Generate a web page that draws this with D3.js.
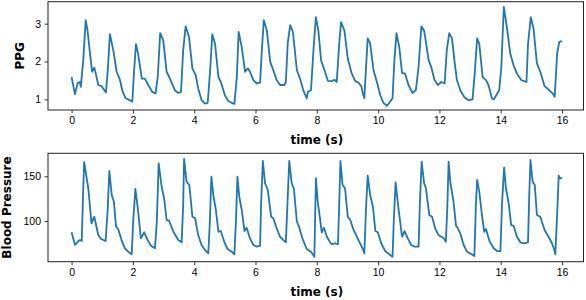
<!DOCTYPE html>
<html>
<head>
<meta charset="utf-8">
<script src="https://cdn.jsdelivr.net/npm/d3@7"></script>
<style>
  body { margin: 0; background: #fff; }
  svg { display: block; font-family: "DejaVu Sans", sans-serif; }
  .axis text { font-size: 10.5px; fill: #000; }
  .axis line { stroke: #222; stroke-width: 0.9px; }
  .axis path { display: none; }
  .frame { fill: none; stroke: #222; stroke-width: 1px; }
  .label { font-size: 12px; font-weight: bold; fill: #000; }
  .signal { fill: none; stroke: #1f77b4; stroke-width: 1.8px; stroke-linejoin: round; }
</style>
</head>
<body>
<script>
// PPG trace (time in s, value)
const ppgTime = [
  0, 0.11, 0.2, 0.27, 0.3, 0.38, 0.46, 0.52, 0.6, 0.67,
  0.74, 0.79, 0.87, 0.98, 1.07, 1.12, 1.18, 1.25, 1.36, 1.47,
  1.58, 1.65, 1.76, 1.9, 1.98, 2.04, 2.1, 2.17, 2.29, 2.39,
  2.5, 2.63, 2.74, 2.81, 2.89, 2.99, 3.1, 3.21, 3.37, 3.48,
  3.57, 3.64, 3.72, 3.83, 3.94, 4.05, 4.13, 4.24, 4.35, 4.44,
  4.52, 4.59, 4.68, 4.79, 4.87, 5.0, 5.11, 5.22, 5.31, 5.39,
  5.45, 5.55, 5.66, 5.75, 5.82, 5.93, 6.04, 6.15, 6.2, 6.27,
  6.37, 6.48, 6.58, 6.69, 6.8, 6.94, 6.99, 7.05, 7.13, 7.22,
  7.35, 7.45, 7.56, 7.67, 7.71, 7.81, 7.89, 7.97, 8.05, 8.14,
  8.25, 8.36, 8.49, 8.57, 8.65, 8.73, 8.79, 8.9, 9.01, 9.14,
  9.25, 9.36, 9.45, 9.5, 9.55, 9.6, 9.66, 9.74, 9.85, 9.96,
  10.07, 10.17, 10.29, 10.39, 10.47, 10.53, 10.6, 10.69, 10.78, 10.88,
  10.99, 11.12, 11.23, 11.32, 11.41, 11.5, 11.65, 11.73, 11.84, 11.95,
  12.06, 12.17, 12.24, 12.32, 12.41, 12.5, 12.57, 12.68, 12.82, 12.95,
  13.08, 13.15, 13.23, 13.3, 13.41, 13.52, 13.6, 13.71, 13.77, 13.84,
  13.95, 14.02, 14.1, 14.2, 14.31, 14.42, 14.53, 14.67, 14.84, 14.89,
  14.98, 15.07, 15.18, 15.29, 15.43, 15.56, 15.69, 15.76, 15.84, 15.91,
  16.0
];
const ppgValues = [
  1.59, 1.14, 1.44, 1.46, 1.33, 2.03, 3.09, 2.82, 2.21, 1.73,
  1.84, 1.68, 1.38, 1.35, 1.24, 1.18, 1.77, 2.72, 2.30, 1.73,
  1.51, 1.24, 1.03, 0.98, 0.94, 1.77, 2.46, 2.21, 1.55, 1.55,
  1.38, 1.2, 1.16, 1.59, 2.75, 2.56, 1.73, 1.55, 1.24, 1.17,
  1.2, 2.30, 2.93, 2.65, 1.82, 1.64, 1.29, 0.98, 0.89, 0.91,
  1.77, 2.72, 2.47, 1.59, 1.46, 1.11, 0.96, 0.91, 0.88, 1.59,
  2.78, 2.38, 1.73, 1.82, 1.73, 1.51, 1.42, 1.44, 2.21, 3.09,
  2.82, 1.99, 1.77, 1.51, 1.38, 1.38, 1.46, 2.47, 2.96, 2.78,
  1.77, 1.55, 1.24, 1.03, 1.2, 1.24, 2.30, 3.17, 2.82, 2.03,
  1.77, 1.49, 1.48, 1.52, 1.46, 2.47, 3.04, 2.82, 2.08, 1.68,
  1.49, 1.44, 1.35, 1.16, 1.03, 1.77, 2.61, 2.47, 1.77, 1.46,
  1.11, 0.91, 0.83, 0.94, 1.03, 2.03, 2.75, 2.38, 1.70, 1.68,
  1.38, 1.17, 1.24, 1.86, 2.93, 2.82, 2.03, 1.86, 1.51, 1.38,
  1.46, 1.42, 2.30, 2.75, 2.61, 1.95, 1.51, 1.24, 1.05, 0.98,
  1.0, 1.68, 2.61, 2.47, 1.59, 1.51, 1.38, 1.03, 1.0, 1.09,
  1.24, 1.86, 3.44, 2.91, 2.21, 1.90, 1.68, 1.51, 1.46, 2.47,
  3.17, 2.87, 1.95, 1.73, 1.35, 1.26, 1.16, 1.07, 2.21, 2.52,
  2.54
];

// blood pressure trace (time in s, mmHg)
const bpTime = [
  0, 0.11, 0.22, 0.27, 0.33, 0.38, 0.41, 0.46, 0.55, 0.65,
  0.74, 0.87, 0.96, 1.11, 1.18, 1.23, 1.31, 1.38, 1.45, 1.52,
  1.63, 1.74, 1.87, 1.96, 2.01, 2.08, 2.16, 2.26, 2.37, 2.48,
  2.59, 2.72, 2.78, 2.84, 2.94, 3.02, 3.1, 3.18, 3.32, 3.48,
  3.59, 3.64, 3.67, 3.75, 3.84, 3.94, 4.03, 4.13, 4.24, 4.35,
  4.46, 4.51, 4.56, 4.63, 4.7, 4.79, 4.87, 4.98, 5.09, 5.22,
  5.31, 5.36, 5.41, 5.47, 5.55, 5.64, 5.71, 5.82, 5.93, 6.04,
  6.15, 6.18, 6.24, 6.31, 6.4, 6.51, 6.58, 6.69, 6.8, 6.91,
  6.99, 7.04, 7.1, 7.18, 7.25, 7.35, 7.42, 7.53, 7.67, 7.81,
  7.92, 7.97, 8.03, 8.11, 8.16, 8.23, 8.33, 8.43, 8.49, 8.6,
  8.69, 8.73, 8.77, 8.84, 8.92, 9.01, 9.09, 9.2, 9.36, 9.49,
  9.55, 9.61, 9.66, 9.74, 9.83, 9.91, 9.99, 10.1, 10.23, 10.36,
  10.47, 10.51, 10.57, 10.65, 10.78, 10.86, 10.97, 11.08, 11.19, 11.32,
  11.36, 11.42, 11.5, 11.56, 11.67, 11.76, 11.86, 11.97, 12.14, 12.21,
  12.26, 12.3, 12.36, 12.46, 12.54, 12.6, 12.68, 12.79, 12.9, 13.04,
  13.14, 13.19, 13.23, 13.3, 13.38, 13.46, 13.52, 13.63, 13.77, 13.88,
  13.99, 14.04, 14.11, 14.17, 14.26, 14.34, 14.42, 14.53, 14.64, 14.75,
  14.89, 14.93, 14.97, 15.04, 15.11, 15.18, 15.29, 15.43, 15.56, 15.67,
  15.75, 15.78, 15.84, 15.89, 15.93, 16.0
];
const bpValues = [
  87.4, 73.2, 77.6, 78.7, 77.6, 136.6, 165.7, 155.1, 134.7, 97.4,
  104.8, 84.3, 79.9, 77.6, 114.2, 155.9, 129.1, 121.6, 93.6, 91.0,
  78.7, 69.5, 65.0, 62.8, 100, 135.8, 114.2, 80.6, 87.4, 78.7,
  72.4, 69.5, 99.2, 164.5, 138.0, 124.9, 101.1, 100.3, 88, 78.7,
  76.2, 117.9, 169.4, 144, 140.3, 104.8, 103, 84.3, 73.2, 67.6,
  63.9, 99.2, 149.6, 127.2, 114.2, 88, 88.8, 76.8, 68.7, 65.7,
  62.8, 99.2, 149.6, 127.2, 112.3, 88.8, 92.5, 80.6, 73.2, 71.3,
  72.4, 117.9, 167.1, 142.2, 134.7, 104.8, 103, 91.8, 82.4, 78.7,
  76.2, 117.9, 167.1, 142.2, 136.6, 99.2, 93.6, 80.6, 68.7, 65.7,
  60.1, 147.8, 121.6, 101.1, 87.4, 92.5, 82.4, 76.2, 74, 75.1,
  74, 117.9, 167.1, 140.3, 136.6, 104.8, 101.1, 90, 78.7, 69.5,
  63.9, 117.9, 150.7, 129.1, 116, 88.8, 87.4, 75.1, 66.4, 62.8,
  60.1, 99.2, 143.3, 117.9, 82.4, 88.8, 80.6, 73.2, 71.3, 71.3,
  117.9, 166.3, 142.2, 136.6, 106.7, 104.8, 91.8, 84.3, 80.6, 76.8,
  117.9, 166.3, 142.2, 121.6, 95, 91.8, 86.2, 73.2, 65.7, 63.1,
  60.9, 117.9, 145.9, 132.8, 108.6, 88, 91, 77.6, 69.5, 66.4,
  66.4, 117.9, 159.6, 136.6, 119.8, 95.5, 94.7, 82.4, 76.2, 75.1,
  76.2, 129.1, 168.2, 144, 140.3, 106.7, 104.8, 90, 82.4, 75.1,
  67.6, 62.8, 106.7, 150.7, 147.8, 148
];

const timeTicks = [0, 2, 4, 6, 8, 10, 12, 14, 16];
const ppgTicks = [1, 2, 3];
const bpTicks = [100, 150];

const width = 586, height = 300;
const left = 48, right = 583.5;

const svg = d3.select("body").append("svg")
  .attr("width", width)
  .attr("height", height);

// one subplot: frame, axes, trace, labels
function drawPanel(times, values, opts){
  const x = d3.scaleLinear().domain([-0.77, 16.7]).range([left, right]);
  const y = d3.scaleLinear().domain(opts.yDomain).range([opts.bottom, opts.top]);

  const g = svg.append("g");

  g.append("g")
    .attr("class", "axis")
    .attr("transform", "translate(0," + opts.bottom + ")")
    .call(d3.axisBottom(x).tickValues(timeTicks).tickSize(3.5).tickPadding(3.5).tickFormat(d3.format("d")));

  g.append("g")
    .attr("class", "axis")
    .attr("transform", "translate(" + left + ",0)")
    .call(d3.axisLeft(y).tickValues(opts.ticks).tickSize(3.5).tickPadding(3.5).tickFormat(d3.format("d")));

  const line = d3.line()
    .x((d, i) => x(times[i]))
    .y(d => y(d));

  g.append("path")
    .datum(values)
    .attr("class", "signal")
    .attr("d", line);

  g.append("rect")
    .attr("class", "frame")
    .attr("x", left)
    .attr("y", opts.top)
    .attr("width", right - left)
    .attr("height", opts.bottom - opts.top);

  g.append("text")
    .attr("class", "label")
    .attr("text-anchor", "middle")
    .attr("x", (x(0) + x(16)) / 2)
    .attr("y", opts.bottom + 34)
    .text("time (s)");

  g.append("text")
    .attr("class", "label")
    .attr("text-anchor", "middle")
    .attr("transform", "translate(" + opts.labelX + "," + (opts.top + opts.bottom) / 2 + ") rotate(-90)")
    .text(opts.label);
}

drawPanel(ppgTime, ppgValues, {
  top: 1.7, bottom: 110, yDomain: [0.72, 3.58], ticks: ppgTicks, label: "PPG", labelX: 24
});
drawPanel(bpTime, bpValues, {
  top: 153.3, bottom: 261.7, yDomain: [54.5, 175.7], ticks: bpTicks, label: "Blood Pressure", labelX: 11
});
</script>
</body>
</html>
